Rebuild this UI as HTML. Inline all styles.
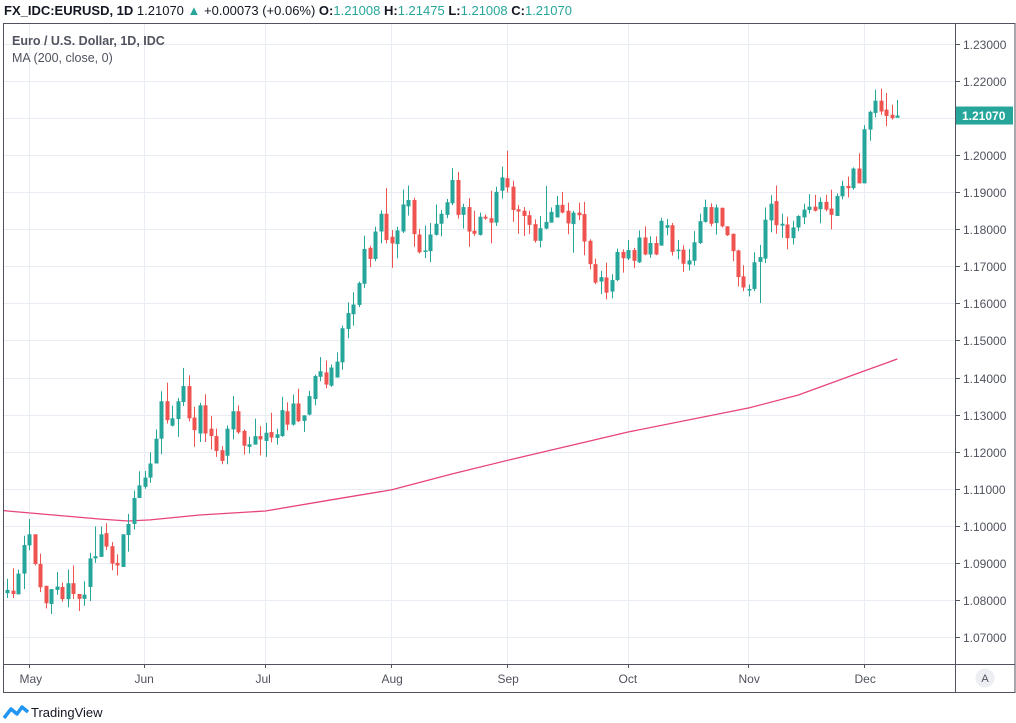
<!DOCTYPE html>
<html><head><meta charset="utf-8"><style>
html,body{margin:0;padding:0;background:#fff;}
svg{display:block;font-family:"Liberation Sans",sans-serif;}
</style></head><body>
<svg id="chart" width="1016" height="723" viewBox="0 0 1016 723">
<g id="grid"></g>
<g id="ma"></g>
<g id="candles"></g>
<g id="axes"></g>
<text x="4" y="15" font-size="13" fill="#131722"><tspan font-weight="bold">FX_IDC:EURUSD, 1D</tspan> 1.21070 <tspan fill="#26a69a">▲</tspan> +0.00073 (+0.06%) <tspan font-weight="bold">O:</tspan><tspan fill="#26a69a">1.21008</tspan> <tspan font-weight="bold">H:</tspan><tspan fill="#26a69a">1.21475</tspan> <tspan font-weight="bold">L:</tspan><tspan fill="#26a69a">1.21008</tspan> <tspan font-weight="bold">C:</tspan><tspan fill="#26a69a">1.21070</tspan></text>
<text x="12" y="45" font-size="12.5" fill="#50535e" font-weight="bold">Euro / U.S. Dollar, 1D, IDC</text>
<text x="12" y="62" font-size="12.5" fill="#50535e">MA (200, close, 0)</text>
<g>
<path d="M4 718 L11 709 L17 714 L22 707 L28 712" stroke="#2196f3" stroke-width="3.5" fill="none" stroke-linejoin="round"/>
<text x="31" y="717" font-size="13" fill="#131722">TradingView</text>
</g>
<g>
<circle cx="985" cy="678" r="9.5" fill="#eceef2"/>
<text x="985" y="682" font-size="11" fill="#50535e" text-anchor="middle">A</text>
</g>
</svg>
<script>
const opens=[1.0818,1.0825,1.0815,1.0871,1.0947,1.0977,1.0897,1.0838,1.0789,1.0827,1.0835,1.0802,1.0845,1.0816,1.0803,1.0835,1.0912,1.0916,1.0980,1.0945,1.0900,1.0889,1.0975,1.1005,1.1075,1.1105,1.1130,1.1168,1.1235,1.1336,1.1270,1.1288,1.1334,1.1377,1.1292,1.1249,1.1325,1.1262,1.1242,1.1204,1.1189,1.1260,1.1309,1.1256,1.1213,1.1219,1.1242,1.1229,1.1253,1.1237,1.1242,1.1309,1.1273,1.1330,1.1283,1.1300,1.1342,1.1402,1.1414,1.1378,1.1400,1.1441,1.1531,1.1571,1.1596,1.1653,1.1750,1.1720,1.1794,1.1842,1.1780,1.1760,1.1794,1.1862,1.1879,1.1786,1.1740,1.1741,1.1785,1.1815,1.1839,1.1870,1.1933,1.1839,1.1860,1.1796,1.1785,1.1834,1.1830,1.1818,1.1904,1.1938,1.1915,1.1854,1.1850,1.1838,1.1814,1.1769,1.1802,1.1818,1.1832,1.1866,1.1850,1.1814,1.1845,1.1841,1.1769,1.1706,1.1659,1.1670,1.1632,1.1663,1.1739,1.1721,1.1744,1.1711,1.1778,1.1732,1.1763,1.1756,1.1804,1.1811,1.1743,1.1745,1.1705,1.1715,1.1763,1.1820,1.1860,1.1817,1.1858,1.1808,1.1788,1.1743,1.1673,1.1637,1.1639,1.1712,1.1721,1.1824,1.1876,1.1810,1.1813,1.1776,1.1805,1.1832,1.1852,1.1861,1.1854,1.1874,1.1856,1.1836,1.1889,1.1917,1.1911,1.1964,1.1924,1.2069,1.2114,1.2147,1.2123,1.2109,1.2101];
const highs=[1.0857,1.0885,1.0882,1.0973,1.1018,1.0977,1.0925,1.0838,1.0829,1.0875,1.0847,1.0882,1.0893,1.0816,1.0850,1.0927,1.0998,1.0998,1.1007,1.0956,1.0923,1.0977,1.1032,1.1095,1.1147,1.1148,1.1198,1.1260,1.1363,1.1386,1.1324,1.1345,1.1426,1.1406,1.1321,1.1332,1.1355,1.1296,1.1262,1.1215,1.1271,1.1350,1.1325,1.1260,1.1240,1.1289,1.1269,1.1278,1.1305,1.1262,1.1348,1.1333,1.1354,1.1370,1.1298,1.1364,1.1408,1.1455,1.1446,1.1435,1.1468,1.1540,1.1603,1.1630,1.1659,1.1783,1.1755,1.1807,1.1851,1.1911,1.1798,1.1807,1.1907,1.1918,1.1885,1.1801,1.1810,1.1817,1.1867,1.1852,1.1882,1.1965,1.1955,1.1869,1.1884,1.1850,1.1845,1.1840,1.1904,1.1915,1.1969,1.2012,1.1931,1.1866,1.1860,1.1850,1.1827,1.1836,1.1917,1.1859,1.1890,1.1901,1.1872,1.1850,1.1872,1.1874,1.1773,1.1721,1.1688,1.1710,1.1679,1.1748,1.1746,1.1771,1.1750,1.1797,1.1808,1.1781,1.1781,1.1831,1.1828,1.1817,1.1771,1.1757,1.1747,1.1795,1.1842,1.1880,1.1870,1.1867,1.1859,1.1808,1.1788,1.1745,1.1703,1.1651,1.1738,1.1758,1.1859,1.1892,1.1918,1.1842,1.1834,1.1823,1.1838,1.1869,1.1895,1.1893,1.1886,1.1893,1.1907,1.1897,1.1931,1.1942,1.1967,1.2005,1.2081,1.2120,1.2177,1.2180,1.2168,1.2136,1.2149];
const lows=[1.0805,1.0805,1.0815,1.0829,1.0934,1.0893,1.0821,1.0777,1.0762,1.0814,1.0795,1.0780,1.0803,1.0770,1.0784,1.0797,1.0900,1.0916,1.0935,1.0880,1.0866,1.0889,1.0930,1.0990,1.1075,1.1100,1.1116,1.1168,1.1193,1.1276,1.1268,1.1240,1.1323,1.1282,1.1213,1.1226,1.1226,1.1206,1.1186,1.1166,1.1166,1.1233,1.1248,1.1192,1.1195,1.1219,1.1190,1.1186,1.1225,1.1219,1.1240,1.1258,1.1270,1.1280,1.1253,1.1298,1.1325,1.1390,1.1371,1.1375,1.1400,1.1421,1.1506,1.1540,1.1590,1.1642,1.1698,1.1714,1.1762,1.1762,1.1696,1.1722,1.1790,1.1837,1.1753,1.1735,1.1722,1.1711,1.1783,1.1781,1.1830,1.1865,1.1829,1.1802,1.1753,1.1782,1.1783,1.1826,1.1762,1.1809,1.1883,1.1899,1.1820,1.1788,1.1782,1.1787,1.1764,1.1751,1.1800,1.1818,1.1832,1.1843,1.1787,1.1737,1.1825,1.1730,1.1692,1.1652,1.1625,1.1611,1.1614,1.1660,1.1683,1.1717,1.1695,1.1709,1.1730,1.1723,1.1730,1.1756,1.1784,1.1729,1.1719,1.1685,1.1689,1.1702,1.1760,1.1818,1.1808,1.1786,1.1805,1.1782,1.1714,1.1646,1.1633,1.1619,1.1633,1.1601,1.1709,1.1792,1.1788,1.1777,1.1746,1.1759,1.1795,1.1814,1.1843,1.1848,1.1816,1.1848,1.1800,1.1836,1.1881,1.1886,1.1907,1.1924,1.1924,1.2039,1.2102,1.2109,1.2078,1.2096,1.2101];
const closes=[1.0827,1.0816,1.0871,1.0948,1.0977,1.0897,1.0834,1.0791,1.0829,1.0836,1.0802,1.0845,1.0816,1.0803,1.0814,1.0912,1.0918,1.0977,1.0944,1.0898,1.0893,1.0977,1.1005,1.1075,1.1109,1.1130,1.1168,1.1235,1.1336,1.1285,1.1290,1.1336,1.1377,1.1290,1.1258,1.1325,1.1249,1.1242,1.1202,1.1175,1.1262,1.1309,1.1252,1.1216,1.1220,1.1242,1.1233,1.1251,1.1238,1.1247,1.1312,1.1273,1.1330,1.1282,1.1298,1.1350,1.1404,1.1417,1.1381,1.1427,1.1443,1.1533,1.1574,1.1597,1.1655,1.1747,1.1720,1.1794,1.1842,1.1771,1.1762,1.1797,1.1867,1.1879,1.1787,1.1738,1.1743,1.1786,1.1815,1.1842,1.1873,1.1933,1.1839,1.1860,1.1794,1.1788,1.1834,1.1829,1.1818,1.1901,1.1940,1.1913,1.1852,1.1848,1.1836,1.1812,1.1769,1.1803,1.1820,1.1847,1.1866,1.1845,1.1816,1.1845,1.1838,1.1767,1.1706,1.1656,1.1671,1.1629,1.1663,1.1739,1.1722,1.1744,1.1715,1.1778,1.1732,1.1763,1.1732,1.1823,1.1811,1.1739,1.1745,1.1707,1.1716,1.1765,1.1822,1.1860,1.1815,1.1859,1.1808,1.1784,1.1741,1.1671,1.1643,1.1639,1.1711,1.1725,1.1826,1.1869,1.1811,1.1815,1.1776,1.1805,1.1836,1.1853,1.1861,1.1850,1.1874,1.1853,1.1839,1.1890,1.1917,1.1911,1.1964,1.1924,1.2070,1.2117,1.2147,1.2118,1.2106,1.2100,1.2107];
const maBars=[0,17,22,26,35,47,59,70,81,92,113,135,144,156,162];
const maValues=[1.1040,1.1018,1.1013,1.1016,1.1029,1.1040,1.1070,1.1097,1.1140,1.1180,1.1253,1.1318,1.1353,1.1418,1.1450];
const priceTicks=[1.23,1.22,1.21,1.20,1.19,1.18,1.17,1.16,1.15,1.14,1.13,1.12,1.11,1.10,1.09,1.08,1.07];
const monthLabels=["May","Jun","Jul","Aug","Sep","Oct","Nov","Dec"];
const monthBars=[4,25,47,70,91,113,135,156];
const lastPrice=1.21070;

const NS="http://www.w3.org/2000/svg";
const PL=4,PR=955,PT=23,PB=664;
function y(p){return 44+(1.23-p)*3706;}
function x(i){return 7.3+i*5.494;}
function el(t,a,parent){const e=document.createElementNS(NS,t);for(const k in a)e.setAttribute(k,a[k]);parent.appendChild(e);return e;}
const grid=document.getElementById('grid'),axes=document.getElementById('axes'),cg=document.getElementById('candles'),mg=document.getElementById('ma');

priceTicks.forEach(p=>{
  const yy=Math.round(y(p))+0.5;
  const g=el('line',{x1:PL,x2:PR,y1:yy,y2:yy,stroke:'#e7edf3','stroke-width':1},grid);
  
  
  el('line',{x1:PR,x2:PR+5,y1:yy,y2:yy,stroke:'#50535e'},axes);
  const t=el('text',{x:963,y:yy+4.5,'font-size':12,fill:'#50535e'},axes);
  t.textContent=p.toFixed(5);
  
  
});
monthLabels.forEach((m,k)=>{
  const xx=Math.round(x(monthBars[k])-0.5)+0.5;
  const g=el('line',{x1:xx,x2:xx,y1:PT,y2:PB,stroke:'#e7edf3'},grid);
  
  
  el('line',{x1:xx,x2:xx,y1:PB,y2:PB+4,stroke:'#50535e'},axes);
  const t=el('text',{x:xx-10,y:683,'font-size':12,fill:'#50535e'},axes);
  t.textContent=m;
  
  
});
// frame
el('rect',{x:3.5,y:PT+0.5,width:1011.5,height:669,fill:'none',stroke:'#50535e'},axes);
el('line',{x1:PR+0.5,x2:PR+0.5,y1:PT,y2:693,stroke:'#50535e'},axes);
el('line',{x1:3,x2:1015,y1:PB+0.5,y2:PB+0.5,stroke:'#50535e'},axes);

// MA
let d='';
maBars.forEach((b,k)=>{d+=(k?'L':'M')+x(b).toFixed(1)+' '+y(maValues[k]).toFixed(1);});
const ma=el('path',{d:d,fill:'none',stroke:'#e8437c','stroke-width':1.3},mg);


el('line',{x1:PL,x2:x(0),y1:y(maValues[0])-0.4,y2:y(maValues[0]),stroke:'#e8437c','stroke-width':1.3},mg);

// candles
for(let i=0;i<closes.length;i++){
  const up=closes[i]>=opens[i];
  const c=up?'#26a69a':'#ef5350';
  const cx=Math.round(x(i));
  const g=el('g',{},cg);
  
  
  el('rect',{x:cx,y:y(highs[i]),width:1,height:Math.max(1,y(lows[i])-y(highs[i])),fill:c},g);
  const top=y(Math.max(opens[i],closes[i])),bot=y(Math.min(opens[i],closes[i]));
  el('rect',{x:cx-1.5,y:top,width:4,height:Math.max(1.5,bot-top),fill:c},g);
}
// last price label
const ly=y(lastPrice);
const lb=el('rect',{x:956,y:ly-9,width:57,height:18,fill:'#26a69a'},axes);


const lt=el('text',{x:962,y:ly+4.5,'font-size':12,fill:'#fff','font-weight':'bold'},axes);
lt.textContent=lastPrice.toFixed(5);
</script>
</body></html>
